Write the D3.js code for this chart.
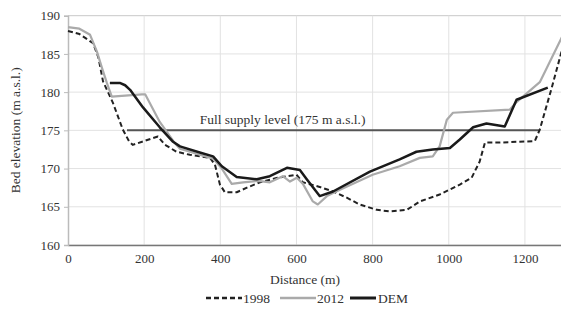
<!DOCTYPE html>
<html>
<head>
<meta charset="utf-8">
<script src="https://cdn.jsdelivr.net/npm/d3@7"></script>
<style>
  body { margin: 0; background: #fff; }
  svg text { font-family: "Liberation Serif", "Times New Roman", serif; fill: #333; }
</style>
</head>
<body>
<script>
// 画布尺寸
var w = 561;
var h = 315;
var margin = { top: 15.7, right: -2, bottom: 70, left: 68 };

// 数据：距离 (m) 与 高程 (m a.s.l.)
var dist1998 = [0, 30, 66, 80, 92, 118, 144, 160, 170, 200, 236, 255, 285, 320, 373, 386, 399, 412, 443, 470, 504, 550, 600, 617, 661, 696, 732, 766, 811, 845, 890, 924, 976, 1029, 1060, 1081, 1095, 1134, 1226, 1239, 1270, 1300];
var elev1998 = [188, 187.6, 186.4, 184.5, 181.4, 178.6, 175.1, 173.6, 173.1, 173.6, 174.2, 173.1, 172.2, 171.8, 171.4, 170.5, 167.9, 166.9, 166.9, 167.5, 168.2, 168.8, 169.2, 168.2, 167.6, 167.0, 166.2, 165.3, 164.6, 164.4, 164.6, 165.7, 166.6, 167.9, 168.8, 170.9, 173.4, 173.4, 173.6, 175.1, 180.5, 186];

var dist2012 = [0, 30, 58, 76, 89, 102, 115, 194, 203, 241, 281, 294, 346, 381, 404, 430, 460, 500, 530, 564, 583, 601, 617, 643, 656, 680, 700, 800, 871, 924, 958, 976, 995, 1011, 1160, 1178, 1239, 1300];
var elev2012 = [188.5, 188.3, 187.5, 185.3, 183.2, 181.2, 179.4, 179.7, 179.7, 176.1, 173.3, 172.6, 171.8, 171.3, 170.0, 168.0, 168.2, 168.4, 168.2, 169.0, 168.3, 168.8, 168.0, 165.7, 165.3, 166.4, 166.9, 169.2, 170.3, 171.4, 171.6, 172.9, 176.4, 177.3, 177.7, 178.7, 181.3, 187.5];

var distDEM = [110, 136, 150, 163, 197, 241, 276, 294, 346, 381, 404, 443, 496, 530, 575, 609, 627, 661, 696, 793, 871, 915, 958, 1003, 1029, 1064, 1099, 1147, 1178, 1260];
var elevDEM = [181.2, 181.2, 180.9, 180.3, 178, 175.4, 173.5, 172.9, 172.1, 171.6, 170.3, 168.9, 168.6, 169, 170.1, 169.8, 168.6, 166.4, 167.0, 169.6, 171.2, 172.2, 172.5, 172.7, 173.8, 175.4, 175.9, 175.5, 179, 180.6];

// 满库水位线
var fslLevel = 175;
var fslRange = [155, 1240];
var fslLabel = "Full supply level (175 m a.s.l.)";

var xTicks = [0, 200, 400, 600, 800, 1000, 1200];
var yTicks = [160, 165, 170, 175, 180, 185, 190];

function zip(xs, ys) {
  return xs.map(function (x, i) { return { x: x, y: ys[i] }; });
}

var series = [
  { name: "1998", data: zip(dist1998, elev1998), color: "#222", width: 2, dash: "5,3" },
  { name: "2012", data: zip(dist2012, elev2012), color: "#aaa", width: 2.2, dash: null },
  { name: "DEM", data: zip(distDEM, elevDEM), color: "#1a1a1a", width: 2.5, dash: null }
];

var xScale = d3.scaleLinear().domain([0, 1300]).range([margin.left, w - margin.right]);
var yScale = d3.scaleLinear().domain([160, 190]).range([h - margin.bottom, margin.top]);

var svg = d3.select("body").append("svg").attr("width", w).attr("height", h)
  .attr("font-family", "'Liberation Serif', 'Times New Roman', serif");

// 网格线
svg.append("g")
  .selectAll("line")
  .data(yTicks)
  .enter()
  .append("line")
  .attr("x1", xScale(0))
  .attr("x2", w)
  .attr("y1", function (d) { return yScale(d); })
  .attr("y2", function (d) { return yScale(d); })
  .attr("stroke", function (d) { return d === 190 ? "#c8c8c8" : "#e2e2e2"; })
  .attr("stroke-width", 1);

svg.append("g")
  .selectAll("line")
  .data(xTicks.slice(1))
  .enter()
  .append("line")
  .attr("x1", function (d) { return xScale(d); })
  .attr("x2", function (d) { return xScale(d); })
  .attr("y1", yScale(160))
  .attr("y2", yScale(190))
  .attr("stroke", "#e2e2e2")
  .attr("stroke-width", 1);

// 坐标轴
var xAxis = d3.axisBottom(xScale).tickValues(xTicks).tickFormat(d3.format("d")).tickSize(0).tickPadding(9);
var yAxis = d3.axisLeft(yScale).tickValues(yTicks).tickSize(4).tickPadding(4);

var gx = svg.append("g")
  .attr("transform", "translate(0," + yScale(160) + ")")
  .call(xAxis)
  .attr("font-family", null)
  .attr("font-size", null);
gx.select(".domain").attr("stroke", "#777").attr("stroke-width", 1.5);
gx.selectAll("text").style("font-size", "13px");

var gy = svg.append("g")
  .attr("transform", "translate(" + xScale(0) + ",0)")
  .call(yAxis)
  .attr("font-family", null)
  .attr("font-size", null);
gy.select(".domain").attr("stroke", "#bbb").attr("stroke-width", 1.5);
gy.selectAll(".tick line").attr("stroke", "#bbb");
gy.selectAll("text").style("font-size", "13px");

// 满库水位线
svg.append("line")
  .attr("x1", xScale(fslRange[0]))
  .attr("x2", xScale(fslRange[1]))
  .attr("y1", yScale(fslLevel))
  .attr("y2", yScale(fslLevel))
  .attr("stroke", "#555")
  .attr("stroke-width", 2);

svg.append("text")
  .attr("x", xScale(346))
  .attr("y", yScale(fslLevel) - 6)
  .style("font-size", "13.5px")
  .text(fslLabel);

// 折线
var line = d3.line()
  .x(function (d) { return xScale(d.x); })
  .y(function (d) { return yScale(d.y); });

svg.append("g")
  .selectAll("path")
  .data(series)
  .enter()
  .append("path")
  .attr("d", function (s) { return line(s.data); })
  .attr("fill", "none")
  .attr("stroke", function (s) { return s.color; })
  .attr("stroke-width", function (s) { return s.width; })
  .attr("stroke-dasharray", function (s) { return s.dash; })
  .attr("stroke-linejoin", "round");

// 轴标题
svg.append("text")
  .attr("x", 305)
  .attr("y", 284)
  .attr("text-anchor", "middle")
  .style("font-size", "13.5px")
  .text("Distance (m)");

svg.append("text")
  .attr("transform", "translate(20," + yScale(175) + ") rotate(-90)")
  .attr("text-anchor", "middle")
  .style("font-size", "13.5px")
  .text("Bed elevation (m a.s.l.)");

// 图例
var legendX = [206, 280, 350];
var legend = svg.append("g").attr("transform", "translate(0,298)");
var items = legend.selectAll("g")
  .data(series)
  .enter()
  .append("g")
  .attr("transform", function (d, i) { return "translate(" + legendX[i] + ",0)"; });

items.append("line")
  .attr("x1", 0)
  .attr("x2", function (d, i) { return i === 2 ? 26 : 36; })
  .attr("y1", 0)
  .attr("y2", 0)
  .attr("stroke", function (s) { return s.color; })
  .attr("stroke-width", function (s) { return s.width + 0.5; })
  .attr("stroke-dasharray", function (s) { return s.dash; });

items.append("text")
  .attr("x", function (d, i) { return i === 2 ? 28 : 37; })
  .attr("y", 4.5)
  .style("font-size", "13.5px")
  .text(function (s) { return s.name; });
</script>
</body>
</html>
